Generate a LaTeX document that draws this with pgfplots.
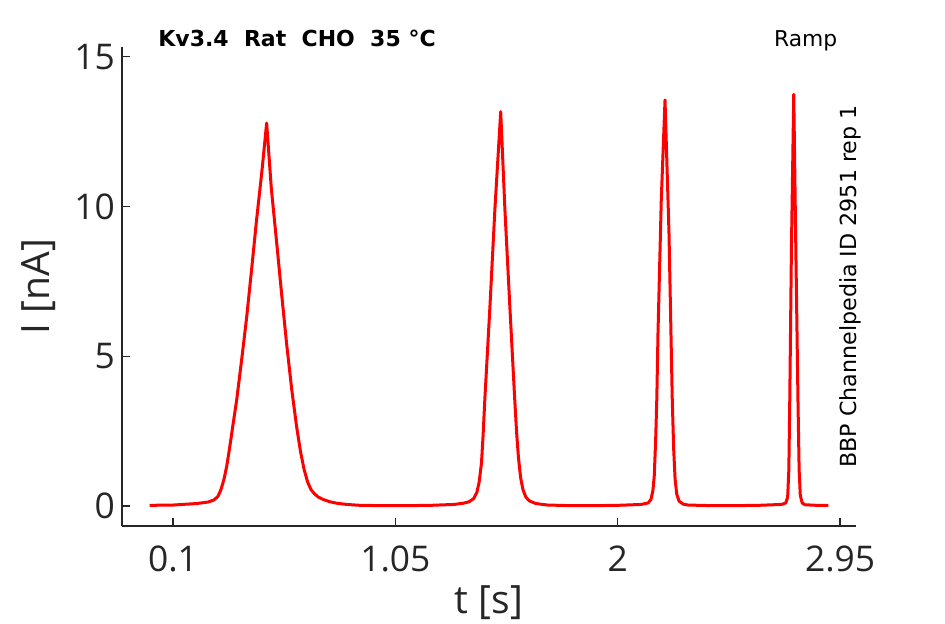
\documentclass[border=0pt]{standalone}
\usepackage{fontspec}
\setmainfont{DejaVu Sans}
\newfontfamily\tickfont{Open Sans}
\usepackage{pgfplots}
\pgfplotsset{compat=1.18}
\definecolor{axgray}{HTML}{262626}
\pgfplotstableread{
t I
0.000 0.02
0.100 0.03
0.200 0.08
0.250 0.13
0.275 0.20
0.292 0.32
0.305 0.55
0.318 0.90
0.330 1.35
0.342 1.95
0.355 2.65
0.372 3.54
0.395 5.00
0.415 6.33
0.437 8.00
0.457 9.56
0.480 11.20
0.500 12.79
0.520 10.60
0.543 8.78
0.565 7.00
0.585 5.44
0.607 3.90
0.628 2.65
0.645 1.80
0.660 1.22
0.675 0.80
0.690 0.54
0.705 0.40
0.720 0.30
0.740 0.22
0.770 0.14
0.800 0.09
0.842 0.05
0.900 0.02
1.000 0.01
1.100 0.01
1.200 0.02
1.300 0.05
1.340 0.09
1.365 0.14
1.385 0.25
1.398 0.45
1.408 0.80
1.418 1.45
1.425 2.40
1.432 3.54
1.454 6.66
1.475 9.89
1.500 13.17
1.518 9.89
1.539 6.66
1.560 3.54
1.568 2.45
1.576 1.60
1.585 0.95
1.595 0.55
1.607 0.30
1.622 0.17
1.650 0.08
1.700 0.03
1.800 0.01
1.900 0.01
2.000 0.02
2.100 0.05
2.130 0.10
2.142 0.22
2.150 0.50
2.156 1.00
2.162 2.20
2.167 3.60
2.172 5.77
2.186 10.22
2.202 13.56
2.219 9.11
2.233 3.54
2.239 1.90
2.245 0.90
2.252 0.40
2.262 0.16
2.280 0.06
2.300 0.03
2.400 0.01
2.500 0.01
2.600 0.02
2.700 0.05
2.718 0.10
2.726 0.30
2.731 1.20
2.735 3.54
2.742 8.55
2.752 13.75
2.760 9.10
2.770 3.54
2.775 1.20
2.780 0.35
2.788 0.10
2.800 0.04
2.850 0.02
2.900 0.02
}\trace
\begin{document}
\begin{tikzpicture}
\path[use as bounding box] (-61pt,-49pt) rectangle (411.5pt,263pt);
\begin{axis}[
  at={(0,0)}, anchor=south west,
  scale only axis, width=367pt, height=239.5pt,
  xmin=-0.118, xmax=3.018, ymin=-0.67, ymax=15.33,
  axis x line*=bottom, axis y line*=left,
  axis line style={draw=axgray, line width=0.6pt},
  tick style={draw=axgray, line width=0.6pt},
  tick align=inside, major tick length=4pt,
  xtick={0.1,1.05,2,2.95}, xticklabels={0.1,1.05,2,2.95},
  ytick={0,5,10,15}, yticklabels={0,5,10,15},
  tick label style={font=\tickfont\fontsize{17.7}{20}\selectfont, text=axgray},
  xticklabel style={yshift=-6.5pt},
  label style={font=\tickfont\fontsize{19.5}{22}\selectfont, text=axgray},
  xlabel={t [s]}, ylabel={I [nA]},
  x label style={at={(axis description cs:0.5,-0.161)}, anchor=center},
  y label style={at={(axis description cs:-0.113,0.5)}, anchor=center},
  clip=false,
]
\addplot[red, line width=1.5pt, line join=round] table[x=t, y=I] {\trace};
\node[anchor=base west, inner sep=0pt, font=\bfseries\fontsize{11}{13}\selectfont] at (rel axis cs:0.049,1) {Kv3.4\ \ Rat\ \ CHO\ \ 35 °C};
\node[anchor=base east, inner sep=0pt, font=\fontsize{10.9}{13}\selectfont] at (rel axis cs:0.975,1) {Ramp};
\node[rotate=90, font=\fontsize{11.1}{13}\selectfont] at (rel axis cs:0.992,0.5) {BBP Channelpedia ID 2951 rep 1};
\end{axis}
\end{tikzpicture}
\end{document}
